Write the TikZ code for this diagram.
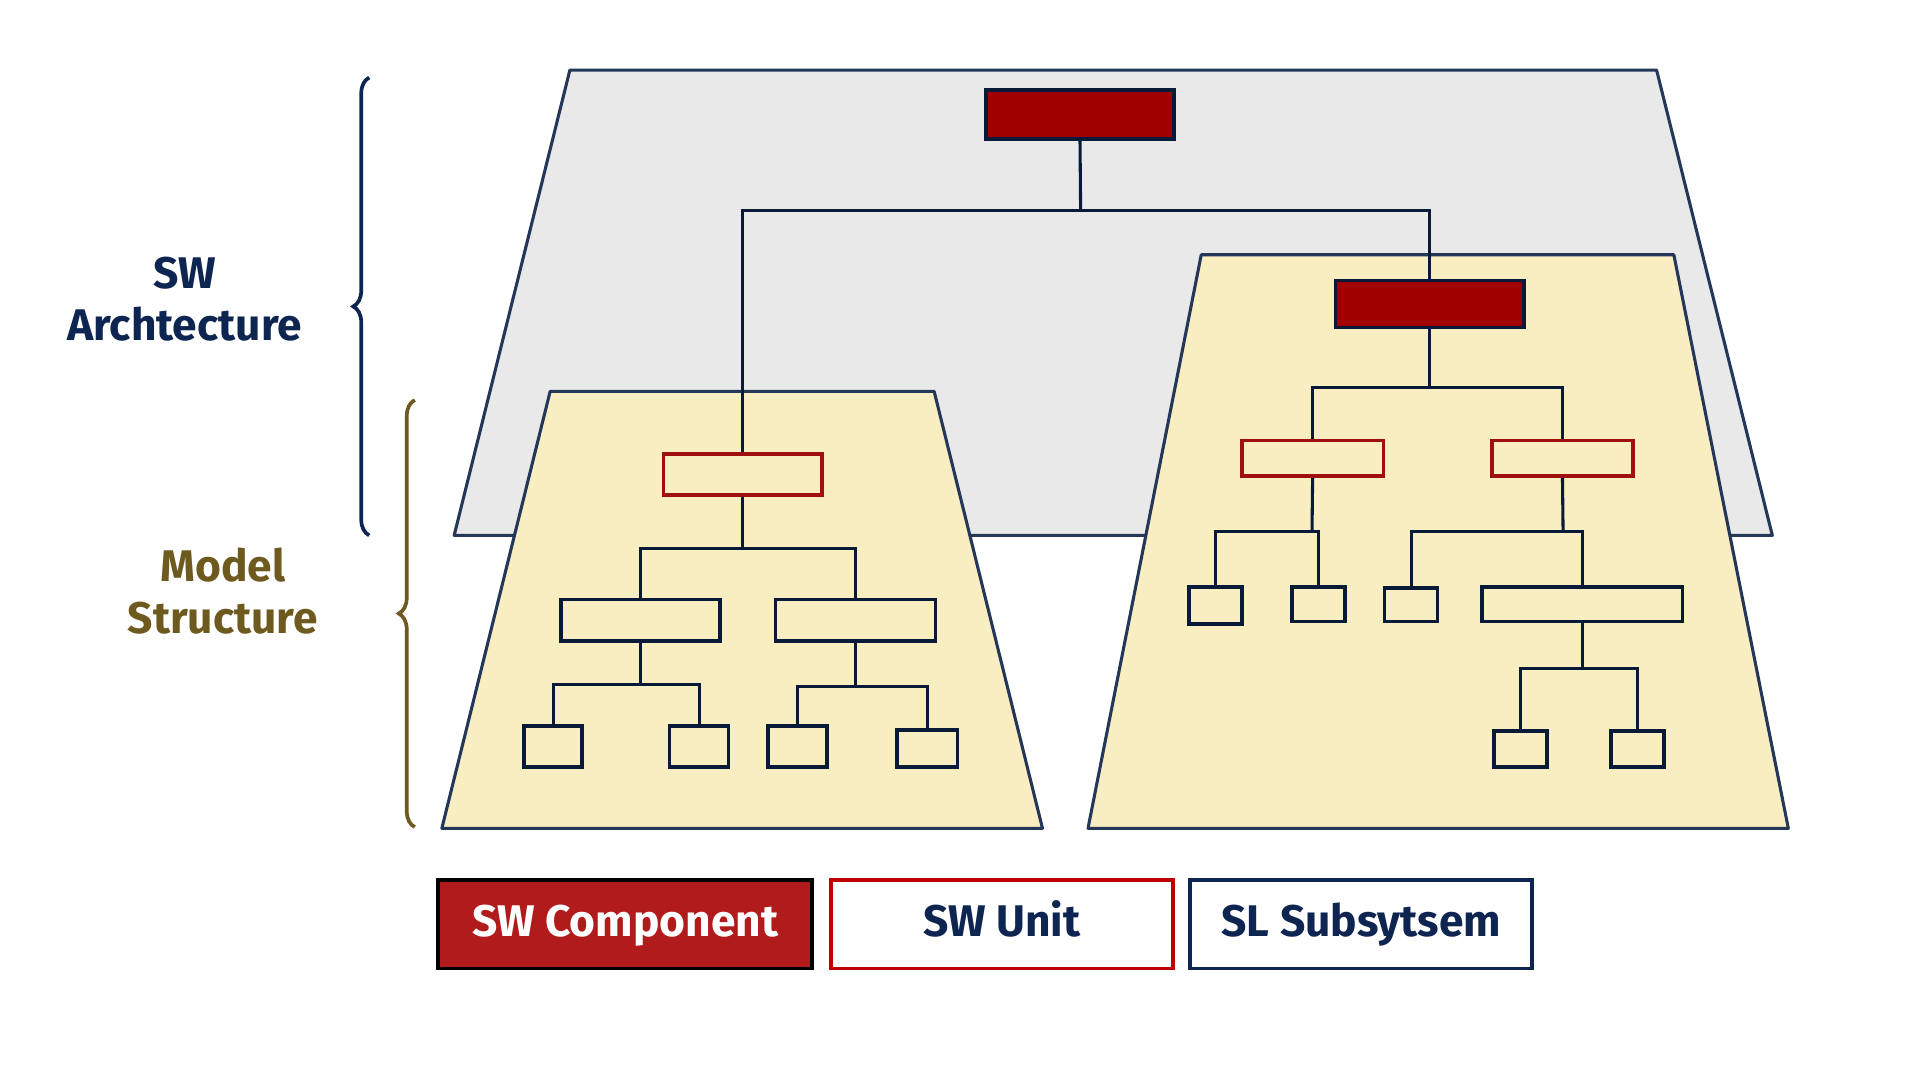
\documentclass[tikz,border=0pt]{standalone}
\usepackage{fontspec}
\setmainfont{Fira Sans}
\usetikzlibrary{decorations.pathreplacing}
\definecolor{navy}{HTML}{0D2550}
\definecolor{gold}{HTML}{6E5A1E}
\definecolor{comp}{HTML}{A00000}
\definecolor{legcomp}{HTML}{B21B1B}
\definecolor{beige}{HTML}{F9EDC2}
\definecolor{unitred}{HTML}{A01010}
\begin{document}
\begin{tikzpicture}[x=1pt,y=-1pt,
  plane/.style={draw=navy!80!gray,line width=2.5pt,line join=round},
  box/.style={draw=navy!70!black,line width=3pt,fill=beige,inner sep=0pt},
  compbox/.style={draw=navy!70!black,line width=3pt,fill=comp,inner sep=0pt},
  unitbox/.style={draw=unitred,line width=3pt,fill=beige,inner sep=0pt},
  wire/.style={draw=navy!70!black,line width=2.5pt},
  lbl/.style={font=\fontsize{36}{42}\selectfont\bfseries,align=center},
  leg/.style={lbl,line width=3pt,minimum height=72,text height=26pt,text depth=7pt}]
\useasboundingbox (0,0) rectangle (1560,878);
\fill[white] (0,0) rectangle (1560,878);
\filldraw[plane,fill=gray!17] (463,57) -- (1346,57) -- (1440,435) -- (369,435) -- cycle;
\filldraw[plane,fill=beige] (447,318) -- (759,318) -- (847,673) -- (359,673) -- cycle;
\filldraw[plane,fill=beige] (976,207) -- (1360,207) -- (1453,673) -- (884,673) -- cycle;
\newcommand{\bx}[6]{\node[#1,minimum width={#4-#2},minimum height={#5-#3}] (#6) at ({(#2+#4)/2},{(#3+#5)/2}) {};}
\bx{compbox}{801}{73}{954}{113}{top}
\bx{compbox}{1085}{228}{1238}{266}{rc}
\bx{unitbox}{539}{369}{668}{402}{lu}
\bx{box}{456}{487}{585}{521}{la}
\bx{box}{630}{487}{760}{521}{lb}
\bx{box}{426}{590}{473}{623}{la1}
\bx{box}{544}{590}{592}{623}{la2}
\bx{box}{624}{590}{672}{623}{lb1}
\bx{box}{729}{593}{778}{623}{lb2}
\bx{unitbox}{1009}{358}{1124}{387}{ru1}
\bx{unitbox}{1212}{358}{1327}{387}{ru2}
\bx{box}{966}{477}{1009}{507}{r11}
\bx{box}{1050}{477}{1093}{505}{r12}
\bx{box}{1125}{478}{1168}{505}{r21}
\bx{box}{1204}{477}{1367}{505}{r22}
\bx{box}{1214}{594}{1257}{623}{r221}
\bx{box}{1309}{594}{1352}{623}{r222}
\newcommand{\tree}[4]{\draw[wire] (#1.south) -- ++(0,#4) coordinate (#1j); \draw[wire] (#2.north) |- (#1j) -| (#3.north);}
\draw[wire] (top.south) -- (878,171) coordinate (tj);
\draw[wire] (lu.north) |- (tj) -| (rc.north);
\tree{lu}{la}{lb}{42}
\tree{la}{la1}{la2}{34}
\tree{lb}{lb1}{lb2}{35}
\tree{rc}{ru1}{ru2}{47}
\draw[wire] (ru1.south) -- (1066,432) coordinate (ru1j);
\draw[wire] (r11.north) |- (ru1j) -| (r12.north);
\draw[wire] (ru2.south) -- (1270,432) coordinate (ru2j);
\draw[wire] (r21.north) |- (ru2j) -| (r22.north);
\tree{r22}{r221}{r222}{37}
\draw[navy,line width=3pt,decorate,decoration={brace,amplitude=13pt}] (300,435) -- (300,63);
\draw[gold,line width=3pt,decorate,decoration={brace,amplitude=13pt}] (337,672) -- (337,325);
\node[lbl,text=navy] (swa) at (150,243) {SW\\Archtecture};
\node[lbl,text=gold] (ms) at (181,480) {Model\\Structure};
\node[leg,draw=black,fill=legcomp,text=white,minimum width=304] (lc) at (508,751) {SW Component};
\node[leg,draw=red!75!black,text=navy,minimum width=278] (lunit) at (814,751) {SW Unit};
\node[leg,draw=navy,text=navy,minimum width=278] (lsub) at (1106,751) {SL Subsytsem};
\end{tikzpicture}
\end{document}
